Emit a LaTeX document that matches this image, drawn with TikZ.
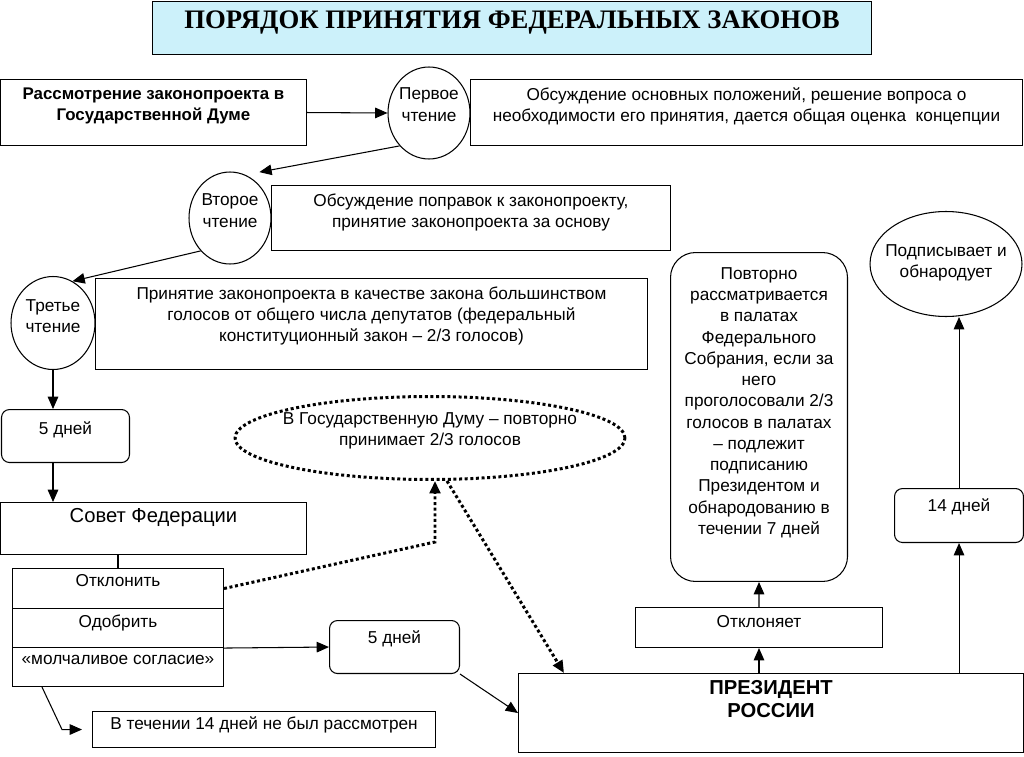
\documentclass[tikz,border=0pt]{standalone}
\usepackage{fontspec}
\setmainfont{Liberation Sans}
\newfontfamily\titlefont{Liberation Serif}
\usetikzlibrary{shapes.geometric, arrows.meta}
\definecolor{titlebg}{RGB}{204,241,250}

\begin{document}
\begin{tikzpicture}[
  x=0.02cm, y=-0.02cm,
  line width=0.6pt,
  >={Triangle[length=7pt,width=6pt]},
  every node/.style={inner sep=0pt, font=\fontsize{9.8}{12.1}\selectfont},
  box/.style={draw, rectangle, anchor=north west},
  rbox/.style={box, rounded corners=0.16cm},
  oval/.style={draw, ellipse},
  lbl/.style={anchor=north, align=center},
  dots/.style={line width=1.7pt, dash pattern=on 1.7pt off 1.5pt}
]
\useasboundingbox (0,0) rectangle (1024,757);

\node[box, fill=titlebg, minimum width=14.38cm, minimum height=1.06cm,
  label={[lbl, yshift=-0.19cm, font=\titlefont\bfseries\fontsize{15.2}{18}\selectfont]north:ПОРЯДОК ПРИНЯТИЯ ФЕДЕРАЛЬНЫХ ЗАКОНОВ}] (t) at (152,1) {};

\node[box, minimum width=6.12cm, minimum height=1.32cm,
  label={[lbl, yshift=-0.16cm, font=\bfseries\fontsize{9.6}{12.1}\selectfont]north:{Рассмотрение законопроекта в\\Государственной Думе}}] (a) at (0,79) {};
\node[oval, minimum width=1.64cm, minimum height=1.84cm,
  label={[lbl, yshift=-0.42cm]north:{Первое\\чтение}}] (r1) at (429,113) {};
\node[box, minimum width=11.04cm, minimum height=1.32cm,
  label={[lbl, yshift=-0.16cm]north:{Обсуждение основных положений, решение вопроса о\\необходимости его принятия, дается общая оценка\ \ концепции}}] (d1) at (470,79) {};

\node[oval, minimum width=1.64cm, minimum height=1.84cm,
  label={[lbl, yshift=-0.44cm]north:{Второе\\чтение}}] (r2) at (230,218) {};
\node[box, minimum width=7.98cm, minimum height=1.30cm,
  label={[lbl, yshift=-0.16cm]north:{Обсуждение поправок к законопроекту,\\принятие законопроекта за основу}}] (d2) at (271,185) {};

\node[oval, minimum width=1.68cm, minimum height=1.86cm,
  label={[lbl, yshift=-0.46cm]north:{Третье\\чтение}}] (r3) at (53,323) {};
\node[box, minimum width=11.04cm, minimum height=1.82cm,
  label={[lbl, yshift=-0.16cm]north:{Принятие законопроекта в качестве закона большинством\\голосов от общего числа депутатов (федеральный\\конституционный закон -- 2/3 голосов)}}] (d3) at (95,278) {};

\node[rbox, minimum width=2.56cm, minimum height=1.06cm,
  label={[lbl, yshift=-0.24cm]north:5 дней}] (k5) at (1,409) {};
\node[box, minimum width=6.12cm, minimum height=1.04cm,
  label={[lbl, yshift=-0.12cm, font=\fontsize{11.5}{14}\selectfont]north:Совет Федерации}] (sf) at (0,502) {};
\node[box, minimum width=4.22cm, minimum height=0.80cm,
  label={[lbl, yshift=-0.12cm]north:Отклонить}] (otkl) at (12,568) {};
\node[box, minimum width=4.22cm, minimum height=0.78cm,
  label={[lbl, yshift=-0.12cm]north:Одобрить}] (odob) at (12,608) {};
\node[box, minimum width=4.22cm, minimum height=0.78cm,
  label={[lbl, yshift=-0.16cm]north:«молчаливое согласие»}] (molch) at (12,647) {};
\node[box, minimum width=6.86cm, minimum height=0.72cm,
  label={[lbl, yshift=-0.1cm]north:В течении 14 дней не был рассмотрен}] (t14) at (92,711) {};

\node[oval, dots, minimum width=7.8cm, minimum height=1.66cm,
  label={[lbl, yshift=-0.34cm]north:{В Государственную Думу -- повторно\\принимает 2/3 голосов}}] (gd) at (430,438) {};
\node[rbox, minimum width=2.6cm, minimum height=1.06cm,
  label={[lbl, yshift=-0.2cm]north:5 дней}] (k5b) at (329,620) {};

\node[box, minimum width=10.10cm, minimum height=1.58cm,
  label={[lbl, yshift=-0.14cm, font=\bfseries\fontsize{11.5}{13}\selectfont]north:{ПРЕЗИДЕНТ\\РОССИИ}}] (p) at (518,673) {};
\node[box, minimum width=4.94cm, minimum height=0.80cm,
  label={[lbl, yshift=-0.16cm]north:Отклоняет}] (otk) at (635,607) {};
\node[box, rounded corners=0.5cm, minimum width=3.54cm, minimum height=6.58cm,
  label={[lbl, yshift=-0.30cm]north:{Повторно\\рассматривается\\в палатах\\Федерального\\Собрания, если за\\него\\проголосовали 2/3\\голосов в палатах\\-- подлежит\\подписанию\\Президентом и\\обнародованию в\\течении 7 дней}}] (pov) at (670,252) {};
\node[rbox, minimum width=2.58cm, minimum height=1.08cm,
  label={[lbl, yshift=-0.2cm]north:14 дней}] (k14) at (894,488) {};
\node[oval, minimum width=3.04cm, minimum height=2.10cm,
  label={[lbl, yshift=-0.66cm]north:{Подписывает и\\обнародует}}] (sign) at (946,264) {};

\coordinate (bend) at (435,542);

\draw[->] (a.east) -- (r1.west);
\draw[->] (r1.south west) -- ([yshift=0.26cm]r2.north east);
\draw[->] (r2.south west) -- (r3.65);
\draw[->] (r3.south) -- (r3.south |- k5.north);
\draw[->] (r3.south |- k5.south) -- (r3.south |- sf.north);
\draw (otkl.north) -- (otkl.north |- sf.south);
\draw[dots, ->] (otkl.east) -- (bend) -- ([xshift=0.1cm]gd.south);
\draw[->] (odob.south east) -- (k5b.west);
\draw[->] ([xshift=0.6cm]molch.south west) -- ([xshift=-0.6cm]t14.west) -- ([xshift=-0.2cm]t14.west);
\draw[dots, ->] ([xshift=0.34cm]gd.south) -- ([xshift=0.92cm]p.north west);
\draw[->] (k5b.south east) -- (p.west);
\draw[->] (otk.south |- p.north) -- (otk.south);
\draw[->] (otk.north) -- (pov.south);
\draw[->] (k14.south |- p.north) -- (k14.south);
\draw[->] (k14.north) -- (k14.north |- sign.south);
\end{tikzpicture}
\end{document}
